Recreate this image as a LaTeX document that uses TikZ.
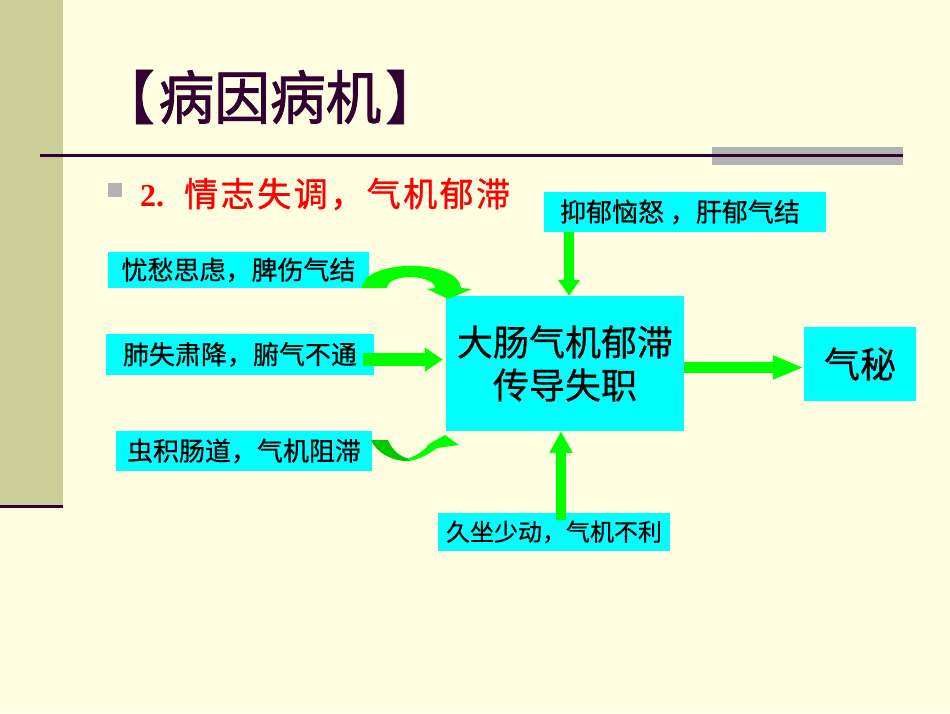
\documentclass[tikz,border=0pt]{standalone}
\usepackage{fontspec}
\usepackage{graphicx}
\usetikzlibrary{arrows.meta}
\newfontfamily\cjk{Noto Sans CJK SC}[FakeBold=0.6]
\newfontfamily\cjkmed{Noto Sans CJK SC}[FakeBold=1]
\newfontfamily\cjkbold{Noto Sans CJK SC}[FakeBold=1.5]
\newfontfamily\numfont{Liberation Serif}
\definecolor{bgc}{RGB}{255,254,225}
\definecolor{bandc}{RGB}{204,204,153}
\definecolor{linec}{RGB}{51,0,51}
\definecolor{barc}{RGB}{178,178,178}
\definecolor{boxc}{RGB}{0,255,255}
\definecolor{arrc}{RGB}{0,255,0}
\definecolor{arrdark}{RGB}{0,200,0}
\definecolor{redc}{RGB}{255,0,0}
\begin{document}
\begin{tikzpicture}[x=1pt,y=-1pt,
  cbox/.style={fill=boxc, inner sep=0pt, align=center, font=\cjk\fontsize{26}{30}\selectfont},
  garrow/.style={draw=arrc, line width=#1},
  garrow/.default=10pt]
\useasboundingbox (0,0) rectangle (950,713);
\fill[bgc] (0,0) rectangle (950,713);
% left band
\fill[bandc] (0,0) rectangle (63,506);
\fill[linec] (0,504.5) rectangle (63,508);
% gray bar and rule
\fill[barc] (712,147) rectangle (903,165);
\fill[linec] (40,154) rectangle (903,156.5);
% title
\node[text=linec, inner sep=0pt] (title) at (270,97) {\cjkbold\fontsize{58}{64}\selectfont\scalebox{0.96}[1]{【\kern4pt 病因病机\kern4pt 】}};
% bullet
\fill[barc] (108,183) rectangle (122,197);
\node[anchor=west, inner sep=0pt, text=redc] (sub) at (140,194) {{\numfont\bfseries\fontsize{32}{36}\selectfont 2.}\hspace{20pt}{\cjkmed\fontsize{34}{36}\selectfont 情\kern2.5pt 志\kern2.5pt 失\kern2.5pt 调\kern2.5pt ，\kern2.5pt 气\kern2.5pt 机\kern2.5pt 郁\kern2.5pt 滞}};
% boxes
\node[cbox, minimum width=261pt, minimum height=36pt] (b1) at (238.5,270) {忧愁思虑，脾伤气结};
\node[cbox, minimum width=268pt, minimum height=41pt] (b2) at (240,354.5) {肺失肃降，腑气不通};
\node[cbox, minimum width=256pt, minimum height=40pt] (b3) at (244,451) {虫积肠道，气机阻滞};
\node[cbox, minimum width=282pt, minimum height=40pt] (b4) at (685,212) {抑郁恼怒 ，肝郁气结\hspace{10pt}};
\node[cbox, minimum width=238pt, minimum height=135pt, font=\cjk\fontsize{36}{43}\selectfont] (main) at (565,363.5) {大肠气机郁滞\\传导失职};
\node[cbox, minimum width=112pt, minimum height=74pt, font=\cjk\fontsize{36}{40}\selectfont] (qm) at (860,364) {气秘};
\node[cbox, minimum width=232pt, minimum height=38pt, font=\cjk\fontsize{24}{28}\selectfont] (b7) at (554,532) {久坐少动，气机不利};
% straight arrows
\draw[garrow=10pt, -{Triangle[width=21pt,length=16pt]}] ([xshift=4pt]main.north |- b4.south) -- ([xshift=4pt]main.north);
\draw[garrow=10pt, -{Triangle[width=22pt,length=22pt]}] ([xshift=-4pt,yshift=-7pt]main.south |- b7.north) -- ([xshift=-4pt]main.south);
\draw[garrow=11pt, -{Triangle[width=22pt,length=31pt]}] ([yshift=-4pt]main.east) -- ([yshift=-4pt]main.east -| qm.west);
\draw[garrow=13pt, -{Triangle[width=23pt,length=18pt]}] ([xshift=-11pt,yshift=-5pt]b2.east) -- ([xshift=-3pt,yshift=-5pt]b2.east -| main.west);
% curved arrow from b1
\fill[arrc] (362,288) .. controls (363,259) and (458,258) .. (461,288) -- (472,289) -- (448,299) -- (427,289) -- (435,288) .. controls (434,274) and (388,273) .. (387,288) -- cycle;
% curved arrow from b3
\fill[arrdark] (371,440) -- (388,440) .. controls (392,450) and (400,457) .. (410,459) -- (410,461) .. controls (392,462) and (376,452) .. (371,440) -- cycle;
\fill[arrc] (409,461) .. controls (421,459) and (430,453) .. (437,448) -- (459,445) -- (445,435) -- (429,444) .. controls (424,451) and (416,456) .. (409,458) -- cycle;
\end{tikzpicture}
\end{document}
